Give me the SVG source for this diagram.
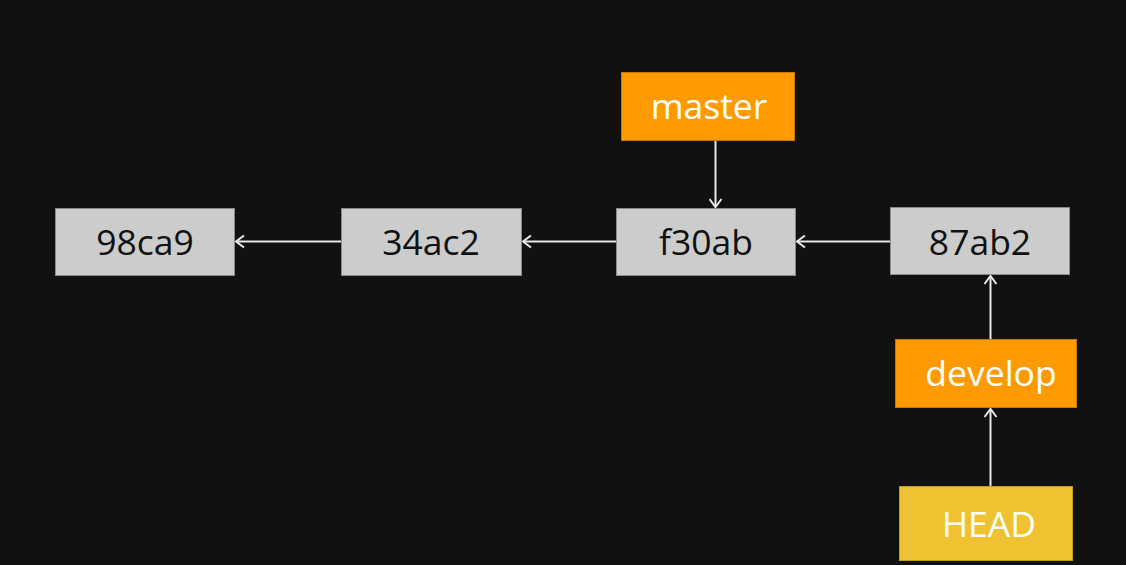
<svg xmlns="http://www.w3.org/2000/svg" width="1126" height="565" viewBox="0 0 1126 565">
  <defs>
    <style>
      .commit rect { fill: #cccccc; stroke: #8a8a8a; stroke-width: 1; }
      .commit text { fill: #111111; }
      .branch rect { fill: #ff9a00; stroke: #c77800; stroke-width: 1; }
      .head rect { fill: #f0c232; stroke: #c09a20; stroke-width: 1; }
      .branch text, .head text { fill: #ffffff; }
      text { font-family: "Open Sans", "Noto Sans", sans-serif; font-size: 35.5px; text-anchor: middle; }
      .edge { stroke: #e8e8e8; stroke-width: 2; fill: none; marker-end: url(#open-arrow); }
    </style>
    <marker id="open-arrow" viewBox="0 0 14 14" refX="12" refY="7" markerWidth="14" markerHeight="14" markerUnits="userSpaceOnUse" orient="auto">
      <path d="M4 1 L12 7 L4 13" fill="none" stroke="#e8e8e8" stroke-width="2"/>
    </marker>
  </defs>
  <rect width="1126" height="565" fill="#111111"/>

  <g id="connectors">
    <line class="edge" x1="341" y1="241.5" x2="236" y2="241.5"/>
    <line class="edge" x1="616" y1="241.5" x2="523" y2="241.5"/>
    <line class="edge" x1="890" y1="241.5" x2="797" y2="241.5"/>
    <line class="edge" x1="715.5" y1="141" x2="715.5" y2="207"/>
    <line class="edge" x1="990.5" y1="339" x2="990.5" y2="276"/>
    <line class="edge" x1="990.5" y1="486" x2="990.5" y2="409"/>
  </g>

  <g id="commit-98ca9" class="commit">
    <rect x="55.5" y="208.5" width="179" height="67"/>
    <text x="145" y="255">98ca9</text>
  </g>
  <g id="commit-34ac2" class="commit">
    <rect x="341.5" y="208.5" width="180" height="67"/>
    <text x="431" y="255">34ac2</text>
  </g>
  <g id="commit-f30ab" class="commit">
    <rect x="616.5" y="208.5" width="179" height="67"/>
    <text x="706" y="255">f30ab</text>
  </g>
  <g id="commit-87ab2" class="commit">
    <rect x="890.5" y="207.5" width="179" height="67"/>
    <text x="980" y="255">87ab2</text>
  </g>
  <g id="branch-master" class="branch">
    <rect x="621.5" y="72.5" width="173" height="68"/>
    <text x="709" y="119">master</text>
  </g>
  <g id="branch-develop" class="branch">
    <rect x="895.5" y="339.5" width="181" height="68"/>
    <text x="991" y="386">develop</text>
  </g>
  <g id="head" class="head">
    <rect x="899.5" y="486.5" width="173" height="74"/>
    <text x="989" y="537">HEAD</text>
  </g>
</svg>
